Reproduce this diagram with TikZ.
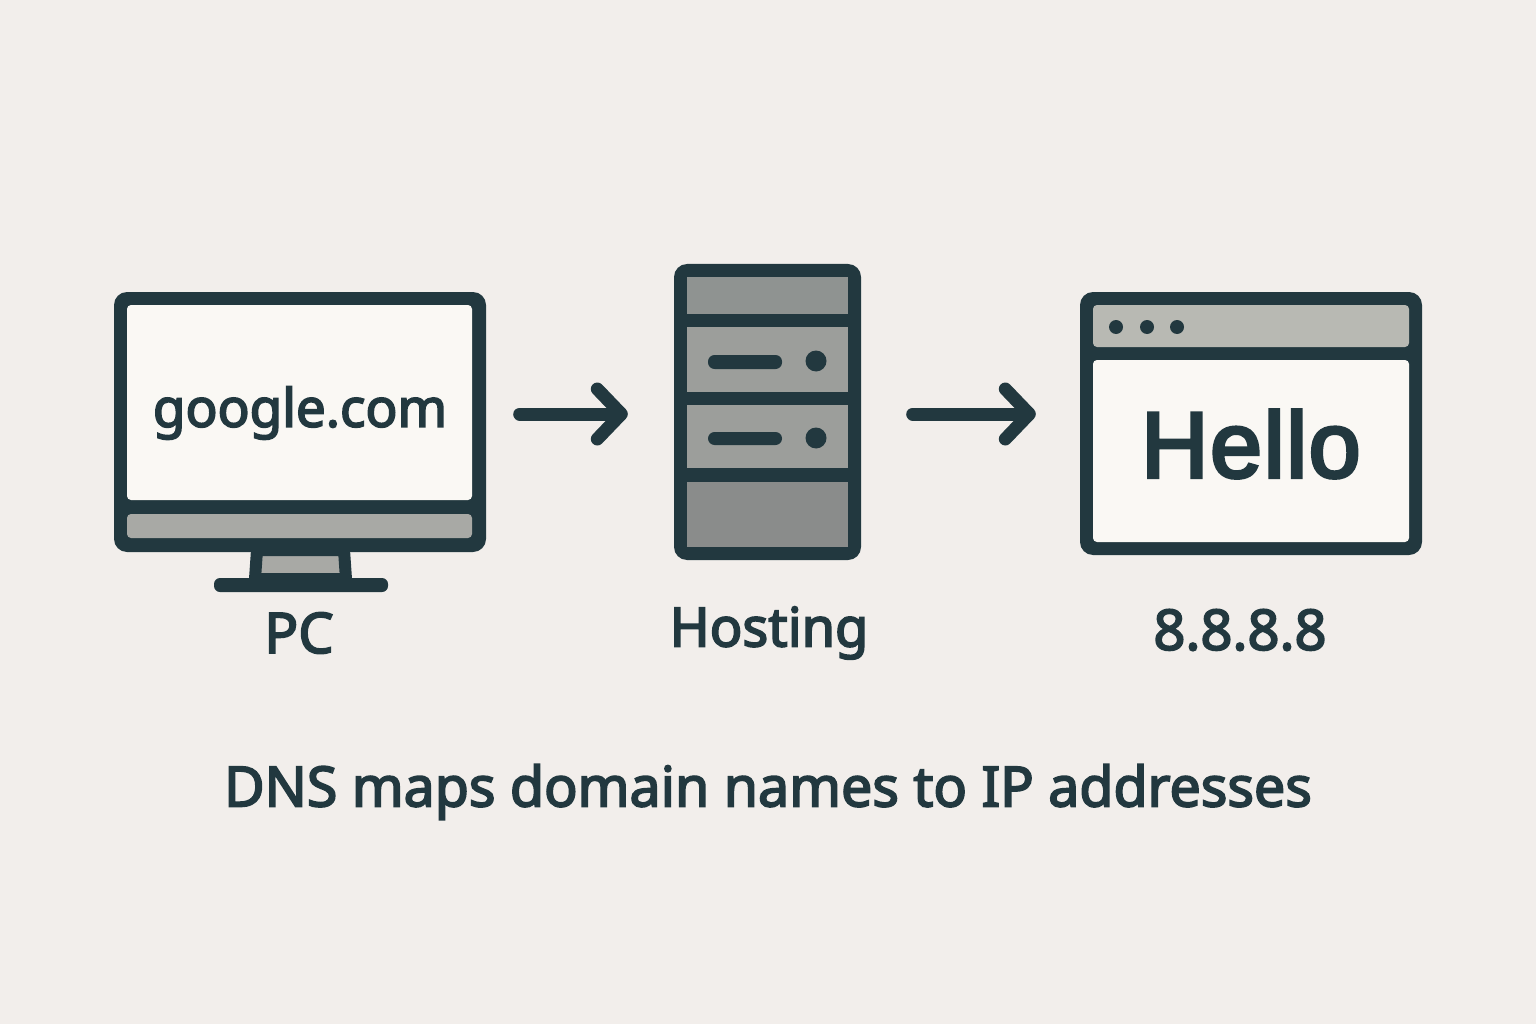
\documentclass[tikz,border=0pt]{standalone}
\usepackage{fontspec}
\setmainfont{Noto Sans}
\newfontfamily\labelfont[FakeBold=3.2]{Noto Sans}
\newfontfamily\hellofont[FakeBold=3.8,LetterSpace=2]{Liberation Sans}
\usetikzlibrary{arrows.meta,calc}
\definecolor{bgc}{HTML}{F2EEEB}
\definecolor{ink}{HTML}{22383F}
\definecolor{paper}{HTML}{FAF8F4}
\definecolor{greyA}{HTML}{A8A9A5}
\definecolor{greyB}{HTML}{B8B9B3}
\definecolor{srvTop}{HTML}{8F9391}
\definecolor{srvMid}{HTML}{9C9E9B}
\definecolor{srvLow}{HTML}{8A8C8B}
\tikzset{
  x=1pt,y=-1pt,
  frame/.style={draw=none,fill=ink,rounded corners=13pt},
  flowarrow/.style={draw=ink,line width=13pt,line cap=round,
    -{Straight Barb[round,length=24pt,width=50pt,line width=13pt]}},
  lamp/.style={draw=none,fill=ink,circle},
  lbl/.style={inner sep=0pt,text=ink},
}
\begin{document}
\begin{tikzpicture}
\useasboundingbox (0,0) rectangle (1536,1024);
\fill[bgc] (0,0) rectangle (1536,1024);

% --- PC
\fill[ink,rounded corners=6pt] (214,578) rectangle (388,592);
\filldraw[draw=ink,line width=12pt,line join=miter,fill=greyA] (257,550) -- (344,550) -- (346,579) -- (255,579) -- cycle;
\node[frame,minimum width=372pt,minimum height=260pt,inner sep=0pt] (pc) at (300,422) {};
\fill[paper,rounded corners=4pt] (127,500) -- (127,305) -- (472,305) -- (472,500) -- cycle;
\fill[greyA,rounded corners=4pt] (127,514) -- (127,538) -- (472,538) -- (472,514) -- cycle;
\node[lbl,font=\labelfont\fontsize{53}{53}\selectfont] (domain) at (300,413) {google.com};
\node[lbl,font=\labelfont\fontsize{56}{56}\selectfont] (pclabel) at (299,633) {PC};

% --- Hosting
\node[frame,minimum width=187pt,minimum height=296pt,inner sep=0pt] (host) at (767.5,412) {};
\fill[srvTop] (687,277) rectangle (848,314);
\fill[srvMid] (687,327) rectangle (848,392);
\fill[srvMid] (687,405) rectangle (848,468);
\fill[srvLow] (687,482) rectangle (848,547);
\fill[ink,rounded corners=6.5pt] (708,355) rectangle (782,369);
\fill[ink,rounded corners=6.5pt] (708,432) rectangle (782,445);
\node[lamp,minimum size=21pt,inner sep=0pt] (lampa) at (816,361) {};
\node[lamp,minimum size=21pt,inner sep=0pt] (lampb) at (816,438) {};
\node[lbl,font=\labelfont\fontsize{54}{54}\selectfont] (hostlabel) at (769,633) {Hosting};

% --- Web page
\node[frame,minimum width=342pt,minimum height=263pt,inner sep=0pt] (web) at (1251,423.5) {};
\fill[greyB,rounded corners=4pt] (1093,347) -- (1093,305) -- (1409,305) -- (1409,347) -- cycle;
\fill[paper,rounded corners=4pt] (1093,360) -- (1093,542) -- (1409,542) -- (1409,360) -- cycle;
\node[lamp,minimum size=14pt,inner sep=0pt] (dota) at (1116,327) {};
\node[lamp,minimum size=14pt,inner sep=0pt] (dotb) at (1147,327) {};
\node[lamp,minimum size=14pt,inner sep=0pt] (dotc) at (1177,327) {};
\node[lbl,font=\hellofont\fontsize{93}{93}\selectfont] (hello) at (1251,444) {Hello};
\node[lbl,font=\labelfont\fontsize{56}{56}\selectfont] (weblabel) at (1240,630) {8.8.8.8};

% --- Connectors
\coordinate (flow) at (0,414);
\draw[flowarrow,shorten <=33.5pt,shorten >=46pt] (pc.east |- flow) -- (host.west |- flow);
\draw[flowarrow,shorten <=51.5pt,shorten >=44pt] (host.east |- flow) -- (web.west |- flow);

% --- Caption
\node[lbl,font=\labelfont\fontsize{55.5}{55.5}\selectfont] (caption) at (768,792) {DNS maps domain names to IP addresses};
\end{tikzpicture}
\end{document}
